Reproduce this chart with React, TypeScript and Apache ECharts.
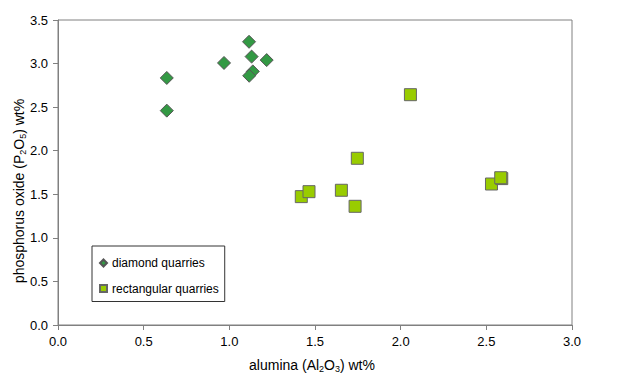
import React, { useEffect, useRef } from "react";
import * as echarts from "echarts";

const diamondQuarries: [number, number][] = [
  [0.635, 2.835],
  [0.635, 2.46],
  [0.969, 3.007],
  [1.115, 3.25],
  [1.13, 3.08],
  [1.218, 3.04],
  [1.137, 2.91],
  [1.116, 2.86],
];

const rectangularQuarries: [number, number][] = [
  [2.057, 2.643],
  [1.747, 1.913],
  [1.42, 1.473],
  [1.465, 1.53],
  [1.654, 1.546],
  [1.734, 1.362],
  [2.53, 1.618],
  [2.59, 1.68],
  [2.584, 1.69],
];

const seriesNames = ["diamond quarries", "rectangular quarries"];
const xTitle = "alumina (Al{s|2}O{s|3}) wt%";
const yTitle = "phosphorus oxide (P{s|2}O{s|5}) wt%";

const FONT = "Liberation Sans, Arial, sans-serif";

export default function App() {
  const ref = useRef<HTMLDivElement>(null);
  useEffect(() => {
    if (!ref.current) return;
    const chart = echarts.init(ref.current, null, { renderer: "svg" });
    const sub = { fontSize: 9, fontFamily: FONT, fill: "#000", color: "#000", padding: [8, 0, 0, 0] };
    const tick = {
      fontSize: 13,
      color: "#000",
      fontFamily: FONT,
      formatter: (v: number) => v.toFixed(1),
    };
    chart.setOption({
      animation: false,
      backgroundColor: "#fff",
      textStyle: { fontFamily: FONT },
      grid: {
        left: 58,
        right: 48,
        top: 20,
        bottom: 57,
        show: true,
        borderColor: "#808080",
        borderWidth: 1,
      },
      legend: {
        orient: "vertical",
        left: 92,
        top: 246,
        padding: [11, 6, 7, 7],
        itemGap: 13.5,
        itemWidth: 7,
        itemHeight: 7,
        borderColor: "#333",
        borderWidth: 1,
        textStyle: { fontSize: 12, color: "#000", fontFamily: FONT },
        data: [
          { name: seriesNames[0], icon: "diamond" },
          { name: seriesNames[1], icon: "rect" },
        ],
      },
      graphic: [
        {
          type: "text",
          x: 312,
          y: 365,
          style: {
            text: xTitle,
            fontSize: 14,
            fontFamily: FONT,
            fill: "#000",
            align: "center",
            verticalAlign: "middle",
            rich: { s: sub },
          },
        },
        {
          type: "text",
          x: 19,
          y: 191,
          rotation: Math.PI / 2,
          style: {
            text: yTitle,
            fontSize: 14,
            fontFamily: FONT,
            fill: "#000",
            align: "center",
            verticalAlign: "middle",
            rich: { s: sub },
          },
        },
      ],
      xAxis: {
        type: "value",
        min: 0,
        max: 3,
        interval: 0.5,
        axisLine: { show: true, lineStyle: { color: "#808080" } },
        axisTick: { show: true, inside: false, length: 5, lineStyle: { color: "#808080" } },
        axisLabel: { ...tick, margin: 10 },
        splitLine: { show: false },
      },
      yAxis: {
        type: "value",
        min: 0,
        max: 3.5,
        interval: 0.5,
        axisLine: { show: true, lineStyle: { color: "#808080" } },
        axisTick: { show: true, inside: false, length: 5, lineStyle: { color: "#808080" } },
        axisLabel: { ...tick, margin: 10 },
        splitLine: { show: false },
      },
      series: [
        {
          name: seriesNames[0],
          type: "scatter",
          symbol: "diamond",
          symbolSize: 13,
          data: diamondQuarries,
          itemStyle: { color: "#339944", borderColor: "#555555", borderWidth: 1, opacity: 1 },
        },
        {
          name: seriesNames[1],
          type: "scatter",
          symbol: "rect",
          symbolSize: 12,
          data: rectangularQuarries,
          itemStyle: { color: "#99cc00", borderColor: "#666666", borderWidth: 1, opacity: 1 },
        },
      ],
    });
    return () => chart.dispose();
  }, []);
  return <div ref={ref} style={{ width: 620, height: 382, margin: -8 }} />;
}
